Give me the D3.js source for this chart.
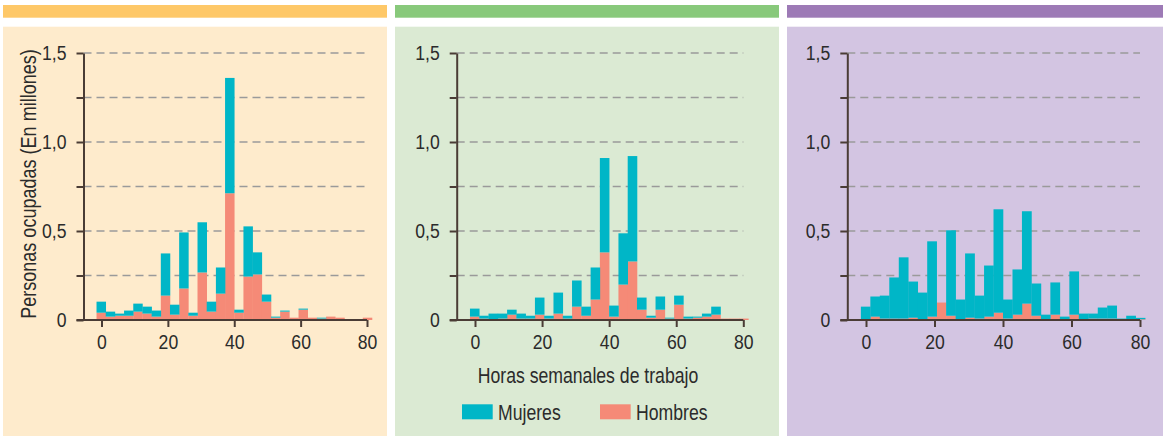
<!DOCTYPE html>
<html>
<head>
<meta charset="utf-8">
<script src="https://cdn.jsdelivr.net/npm/d3@7"></script>
<style>
  html, body { margin: 0; padding: 0; background: #ffffff; }
  svg { display: block; }
  text { font-family: "Liberation Sans", Arial, sans-serif; fill: #2b2b2b; }
</style>
</head>
<body>
<svg id="chart" width="1163" height="436"></svg>
<script>
// ---------- DATA ----------
// Bin boundaries (hours per week), 30 equal bins
const hourEdges = [-1.5, 1.27, 4.03, 6.8, 9.57, 12.33, 15.1, 17.87, 20.63, 23.4, 26.17, 28.93, 31.7, 34.47, 37.23,
                   40, 42.77, 45.53, 48.3, 51.07, 53.83, 56.6, 59.37, 62.13, 64.9, 67.67, 70.43, 73.2, 75.97, 78.73, 81.5];
const seriesNames = ["Mujeres", "Hombres"];
const xTicks = [0, 20, 40, 60, 80];
const yTicks = [0, 0.25, 0.5, 0.75, 1.0, 1.25, 1.5];
const yLabelTicks = [0, 0.5, 1.0, 1.5];
const yTitle = "Personas ocupadas (En millones)";
const xTitle = "Horas semanales de trabajo";

// Panel 1 (millions of people)
const panel1Mujeres = [0.062, 0.028, 0.012, 0.029, 0.045, 0.039, 0.034, 0.237, 0.056, 0.315, 0.017, 0.282, 0.056, 0.147, 0.648,
                       0.017, 0.282, 0.124, 0.040, 0.006, 0.006, 0.000, 0.006, 0.000, 0.005, 0.000, 0.000, 0.000, 0.000, 0.000];
const panel1Hombres = [0.041, 0.019, 0.024, 0.024, 0.047, 0.036, 0.019, 0.137, 0.030, 0.177, 0.024, 0.267, 0.047, 0.148, 0.712,
                       0.041, 0.244, 0.256, 0.103, 0.013, 0.047, 0.013, 0.058, 0.013, 0.008, 0.019, 0.013, 0.003, 0.000, 0.013];
// Panel 2
const panel2Mujeres = [0.045, 0.016, 0.034, 0.028, 0.028, 0.028, 0.016, 0.096, 0.016, 0.118, 0.016, 0.147, 0.051, 0.180, 0.530,
                       0.062, 0.288, 0.592, 0.068, 0.011, 0.074, 0.005, 0.051, 0.011, 0.006, 0.017, 0.045, 0.000, 0.000, 0.000];
const panel2Hombres = [0.019, 0.008, 0.002, 0.008, 0.030, 0.008, 0.008, 0.030, 0.008, 0.036, 0.008, 0.075, 0.024, 0.115, 0.380,
                       0.019, 0.199, 0.329, 0.058, 0.013, 0.058, 0.008, 0.086, 0.008, 0.013, 0.019, 0.030, 0.008, 0.008, 0.008];
// Panel 3
const panel3Mujeres = [0.075, 0.113, 0.129, 0.231, 0.344, 0.203, 0.154, 0.423, 0.000, 0.480, 0.115, 0.361, 0.129, 0.287, 0.581,
                       0.107, 0.254, 0.519, 0.181, 0.030, 0.181, 0.019, 0.243, 0.036, 0.028, 0.062, 0.073, 0.008, 0.024, 0.008];
const panel3Hombres = [0.000, 0.019, 0.008, 0.008, 0.008, 0.013, 0.000, 0.019, 0.098, 0.024, 0.000, 0.013, 0.008, 0.019, 0.041,
                       0.008, 0.030, 0.092, 0.024, 0.000, 0.030, 0.000, 0.030, 0.000, 0.008, 0.008, 0.008, 0.000, 0.000, 0.004];

// ---------- STYLE / LAYOUT ----------
const colors = { Mujeres: "#00b6c7", Hombres: "#f58a77" };
const axisColor = "#4a3c35";
const gridColor = "#9a9a9a";
const fontTick = 20;
const fontTitle = 21.5;
const narrow = 0.82;      // horizontal compression to imitate a condensed face
const narrowTick = 0.88;

const panels = [
  { women: panel1Mujeres, men: panel1Hombres, x: 3,   w: 384, bg: "#feebcc", band: "#fec868", axisX: 83.5,  x0: 101.5, x80: 367,   yTitle: true },
  { women: panel2Mujeres, men: panel2Hombres, x: 395, w: 384, bg: "#dbead3", band: "#88c97b", axisX: 456.7, x0: 475,   x80: 743.3, legend: true },
  { women: panel3Mujeres, men: panel3Hombres, x: 787, w: 376, bg: "#d3c5e2", band: "#9d7ab6", axisX: 847.3, x0: 866,   x80: 1140 }
];

const svg = d3.select("#chart");
const y = d3.scaleLinear().domain([0, 1.5]).range([320, 53]);
const fmt = v => d3.format(".1f")(v).replace(".", ",").replace(/^0,0$/, "0");

function condense(sel, k) {
  sel.each(function () {
    const L = this.getComputedTextLength();
    if (L > 0) {
      this.setAttribute("textLength", (L * k).toFixed(2));
      this.setAttribute("lengthAdjust", "spacingAndGlyphs");
    }
  });
}

panels.forEach(p => {
  // backgrounds
  svg.append("rect").attr("x", p.x).attr("y", 5).attr("width", p.w).attr("height", 12.7).attr("fill", p.band);
  svg.append("rect").attr("x", p.x).attr("y", 26.7).attr("width", p.w).attr("height", 436 - 26.7).attr("fill", p.bg);

  const x = d3.scaleLinear().domain([0, 80]).range([p.x0, p.x80]);
  const g = svg.append("g");

  // gridlines
  g.append("g").selectAll("line").data(yTicks.filter(t => t > 0)).join("line")
    .attr("x1", p.axisX).attr("x2", x(80))
    .attr("y1", d => y(d)).attr("y2", d => y(d))
    .attr("stroke", gridColor).attr("stroke-width", 1.5).attr("stroke-dasharray", "8,5");

  // stacked bars
  const rows = p.women.map((w, i) => ({ i, Mujeres: w, Hombres: p.men[i] }));
  const stack = d3.stack().keys(["Hombres", "Mujeres"])(rows);
  g.append("g").selectAll("g").data(stack).join("g")
    .attr("fill", s => colors[s.key])
    .selectAll("rect").data(s => s).join("rect")
      .attr("x", d => x(hourEdges[d.data.i]))
      .attr("width", d => x(hourEdges[d.data.i + 1]) - x(hourEdges[d.data.i]) + 0.3)
      .attr("y", d => y(d[1]))
      .attr("height", d => Math.max(0, y(d[0]) - y(d[1])));

  // y axis
  const yAxis = d3.axisLeft(y).tickValues(yTicks).tickSize(7).tickSizeOuter(0).tickPadding(10)
    .tickFormat(v => yLabelTicks.some(t => Math.abs(t - v) < 1e-9) ? fmt(v) : "");
  const ya = g.append("g").attr("transform", `translate(${p.axisX},0)`).call(yAxis);
  ya.select(".domain").attr("stroke", axisColor).attr("stroke-width", 2);
  ya.selectAll(".tick line").attr("stroke", axisColor).attr("stroke-width", 2);
  ya.selectAll(".tick text").attr("font-size", fontTick).attr("fill", "#2b2b2b").style("font-family", null);
  condense(ya.selectAll(".tick text"), narrowTick);

  // x axis
  const xAxis = d3.axisBottom(x).tickValues(xTicks).tickSize(7).tickSizeOuter(0).tickPadding(8);
  const xa = g.append("g").attr("transform", `translate(0,${y(0)})`).call(xAxis);
  xa.select(".domain").remove();
  xa.selectAll(".tick line").attr("stroke", axisColor).attr("stroke-width", 2);
  xa.selectAll(".tick text").attr("font-size", fontTick).attr("fill", "#2b2b2b").style("font-family", null);
  condense(xa.selectAll(".tick text"), narrowTick);
  xa.append("line").attr("x1", p.axisX - 7).attr("x2", x(80)).attr("y1", 0).attr("y2", 0)
    .attr("stroke", axisColor).attr("stroke-width", 2.2);

  if (p.yTitle) {
    svg.append("text").attr("transform", `translate(35.5,184) rotate(-90) scale(${narrow},1)`)
      .attr("text-anchor", "middle").attr("font-size", 22).text(yTitle);
  }
  if (p.legend) {
    const t = svg.append("text").attr("x", 588).attr("y", 383).attr("text-anchor", "middle")
      .attr("font-size", fontTitle).text(xTitle);
    condense(t, narrow);
    const items = [{ k: "Mujeres", x: 462 }, { k: "Hombres", x: 600 }];
    items.forEach(it => {
      svg.append("rect").attr("x", it.x).attr("y", 404.3).attr("width", 30.7).attr("height", 15).attr("fill", colors[it.k]);
      const lt = svg.append("text").attr("x", it.x + 36).attr("y", 419.5).attr("font-size", fontTitle).text(it.k);
      condense(lt, narrow);
    });
  }
});
</script>
</body>
</html>
